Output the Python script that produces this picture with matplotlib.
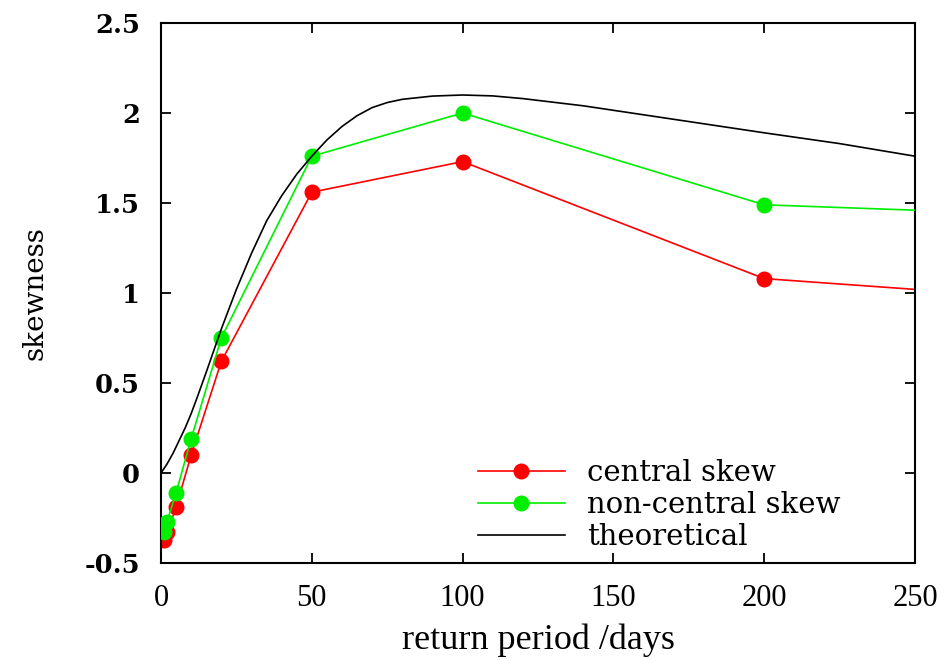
import matplotlib
matplotlib.use("Agg")
import matplotlib.pyplot as plt

# ── Data ────────────────────────────────────────────────────────────────────
period = [1, 2, 5, 10, 20, 50, 100, 200, 500]
central_skew = [-0.37, -0.33, -0.19, 0.10, 0.62, 1.56, 1.73, 1.08, 0.72]
noncentral_skew = [-0.33, -0.27, -0.11, 0.19, 0.75, 1.76, 2.00, 1.49, 1.31]

theory_x = [0, 2, 4, 6, 8, 10, 12, 15, 20, 25, 30, 35, 40, 45, 50, 55, 60,
            65, 70, 75, 80, 90, 100, 110, 120, 140, 160, 180, 200, 225, 250]
theory_y = [0.0, 0.05, 0.11, 0.18, 0.25, 0.33, 0.42, 0.56, 0.80, 1.02, 1.22,
            1.40, 1.54, 1.66, 1.76, 1.85, 1.925, 1.985, 2.03, 2.058, 2.076,
            2.094, 2.10, 2.095, 2.08, 2.04, 1.99, 1.94, 1.89, 1.83, 1.76]

x_ticks = [0, 50, 100, 150, 200, 250]
y_ticks = [-0.5, 0, 0.5, 1, 1.5, 2, 2.5]
y_tick_labels = ["-0.5", "0", "0.5", "1", "1.5", "2", "2.5"]

RED = "#ff0000"
GREEN = "#00ee00"
SERIF = "DejaVu Serif"
TIMES = "Liberation Serif"

fig = plt.figure(figsize=(9.52, 6.6), dpi=100, facecolor="white")
ax = fig.add_axes([161 / 952, 97 / 660, 754 / 952, 540 / 660])

ax.plot(period, central_skew, color=RED, lw=1.2, marker="o", ms=10.5,
        mec=RED, mfc=RED, label="central skew", zorder=2)
ax.plot(period, noncentral_skew, color=GREEN, lw=1.2, marker="o", ms=10.5,
        mec=GREEN, mfc=GREEN, label="non-central skew", zorder=3)
ax.plot(theory_x, theory_y, color="black", lw=1.2, label="theoretical", zorder=4)

ax.set_xlim(0, 250)
ax.set_ylim(-0.5, 2.5)

ax.set_xticks(x_ticks)
ax.set_xticklabels([str(t) for t in x_ticks], fontfamily=TIMES, fontsize=22)
ax.set_yticks(y_ticks)
ax.set_yticklabels(y_tick_labels, fontfamily=SERIF, fontsize=18.5, fontweight="bold")

ax.tick_params(direction="in", length=7, width=1.3, top=True, right=True)
ax.tick_params(axis="x", pad=15)
ax.tick_params(axis="y", pad=15)
for spine in ax.spines.values():
    spine.set_linewidth(1.5)

ax.set_xlabel("return period /days", fontfamily=TIMES, fontsize=26, labelpad=8)
ax.set_ylabel("skewness", fontfamily=SERIF, fontsize=20, labelpad=26)

ax.legend(loc="upper left", bbox_to_anchor=(0.42, 0.193), frameon=False,
          prop={"family": SERIF, "size": 21}, handlelength=3.0,
          handletextpad=0.75, labelspacing=0.14, borderpad=0, borderaxespad=0)

fig.savefig("out.png", dpi=100, facecolor="white")
